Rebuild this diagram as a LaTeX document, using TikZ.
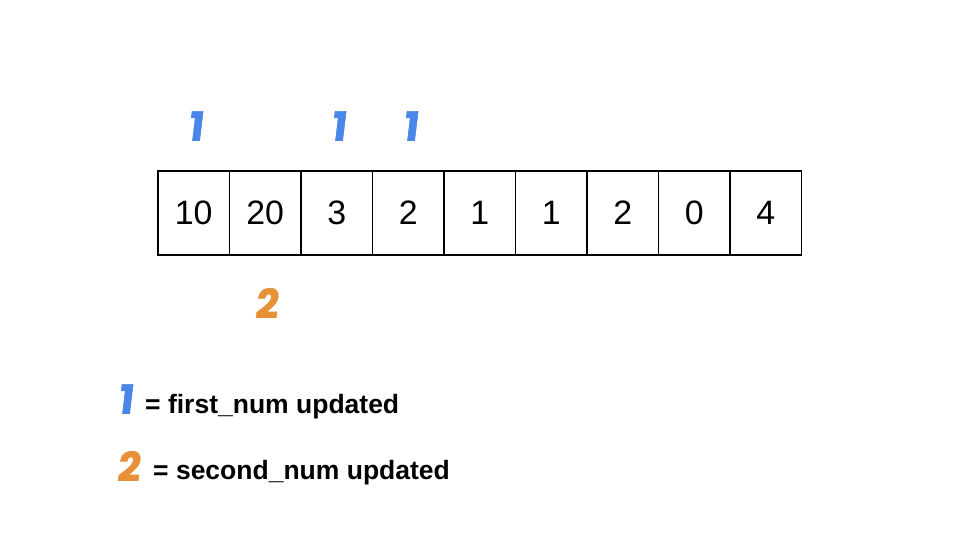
\documentclass[tikz,border=0pt]{standalone}
\usepackage{fontspec}
\setmainfont{Liberation Sans}
\newfontfamily\markfont{Poppins}[BoldFeatures={FakeSlant=0.12,FakeBold=1.5}]
\definecolor{mblue}{HTML}{4A86E8}
\definecolor{morange}{HTML}{E69138}
\begin{document}
\begin{tikzpicture}[x=1bp,y=-1bp,
  cellbox/.style={draw=black,line width=1.2bp,minimum width=71.5bp,minimum height=84bp,inner sep=0pt,outer sep=0pt,anchor=north west,font=\fontsize{34}{40}\selectfont},
  markone/.style={text=mblue,inner sep=0pt,font=\markfont\bfseries\fontsize{40}{46}\selectfont},
  marktwo/.style={text=morange,inner sep=0pt,font=\markfont\bfseries\fontsize{40}{46}\selectfont},
  legtext/.style={anchor=base west,inner sep=0pt,font=\bfseries\fontsize{26.6}{30}\selectfont}]
\useasboundingbox (0,0) rectangle (960,540);
\foreach \v [count=\i from 0] in {10,20,3,2,1,1,2,0,4}{
  \node[cellbox] (c\i) at ({158+71.5*\i},171) {\v};
}
\node[markone] (m0) at (195,126) {1};
\node[markone] (m2) at (338,126) {1};
\node[markone] (m3) at (410,126) {1};
\node[marktwo] (s1) at (266,303) {2};
\node[markone] (l1) at (125,399) {1};
\node[legtext] (t1) at (145,413) {= first\_num updated};
\node[marktwo] (l2) at (128,466) {2};
\node[legtext] (t2) at (153,479) {= second\_num updated};
\end{tikzpicture}
\end{document}
